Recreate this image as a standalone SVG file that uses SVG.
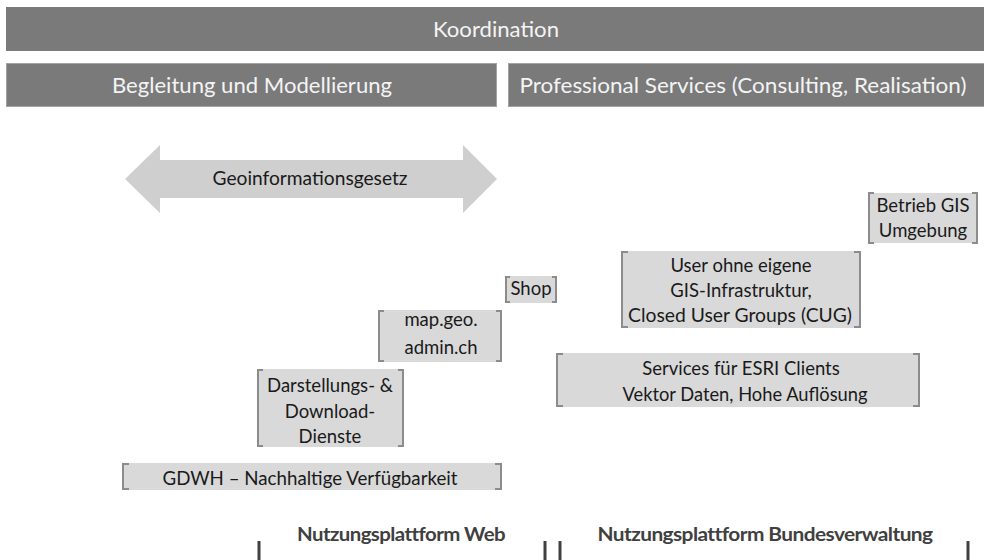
<svg xmlns="http://www.w3.org/2000/svg" width="984" height="560" viewBox="0 0 984 560">
<defs>
<style>
.bar{fill:#7a7a7a;}
.bar2{fill:#7a7a7a;stroke:#a3a3a3;stroke-width:1;}
.hdr{font-family:Lato,"Open Sans","DejaVu Sans",sans-serif;font-size:21.5px;fill:#f4f4f4;text-anchor:middle;}
.box{fill:#d9d9d9;}
.brk{fill:none;stroke:#8c8c8c;stroke-width:2;}
.lbl{font-family:Lato,"Open Sans","DejaVu Sans",sans-serif;font-size:18.5px;fill:#1a1a1a;text-anchor:middle;}
.plat{font-family:Lato,"Open Sans","DejaVu Sans",sans-serif;font-size:18px;font-weight:bold;fill:#404040;text-anchor:middle;letter-spacing:-0.5px;}
.tick{stroke:#404040;stroke-width:3;}
</style>
</defs>
<rect width="984" height="560" fill="#ffffff"/>

<g id="koordination">
<rect class="bar" x="6" y="7" width="978" height="44"/>
<text class="hdr" x="496" y="37" textLength="126" lengthAdjust="spacingAndGlyphs">Koordination</text>
</g>
<g id="begleitung">
<rect class="bar2" x="6.5" y="63.5" width="490" height="43"/>
<text class="hdr" x="252" y="93" textLength="280" lengthAdjust="spacingAndGlyphs">Begleitung und Modellierung</text>
</g>
<g id="professional">
<rect class="bar2" x="508.5" y="63.5" width="476" height="43"/>
<text class="hdr" x="743" y="93" textLength="447" lengthAdjust="spacingAndGlyphs">Professional Services (Consulting, Realisation)</text>
</g>

<g id="geoinformationsgesetz">
<polygon points="125,179 160,145 160,160 463,160 463,145 497,179 463,213 463,198 160,198 160,213" fill="#cfcfcf"/>
<text class="lbl" x="310" y="185" textLength="195" lengthAdjust="spacingAndGlyphs">Geoinformationsgesetz</text>
</g>

<g id="betrieb">
<rect class="box" x="868" y="193" width="110" height="50"/>
<path class="brk" d="M874,193 H869 V243 H874 M972,193 H977 V243 H972"/>
<text class="lbl" x="923" y="212">Betrieb GIS</text>
<text class="lbl" x="923" y="237">Umgebung</text>
</g>

<g id="user">
<rect class="box" x="621" y="251" width="240" height="77"/>
<path class="brk" d="M628,252 H622 V327 H628 M854,252 H860 V327 H854"/>
<text class="lbl" x="741" y="272">User ohne eigene</text>
<text class="lbl" x="741" y="297">GIS-Infrastruktur,</text>
<text class="lbl" x="740" y="322" textLength="224" lengthAdjust="spacingAndGlyphs">Closed User Groups (CUG)</text>
</g>

<g id="shop">
<rect class="box" x="505" y="276" width="52" height="27"/>
<path class="brk" d="M510,277 H506 V302 H510 M552,277 H556 V302 H552"/>
<text class="lbl" x="531" y="295">Shop</text>
</g>

<g id="mapgeo">
<rect class="box" x="378" y="310" width="124" height="52"/>
<path class="brk" d="M384,311 H379 V361 H384 M496,311 H501 V361 H496"/>
<text class="lbl" x="441" y="326">map.geo.</text>
<text class="lbl" x="441" y="354">admin.ch</text>
</g>

<g id="services">
<rect class="box" x="556" y="353" width="364" height="54"/>
<path class="brk" d="M563,354 H557 V406 H563 M913,354 H919 V406 H913"/>
<text class="lbl" x="741" y="375">Services für ESRI Clients</text>
<text class="lbl" x="745" y="401" textLength="245" lengthAdjust="spacingAndGlyphs">Vektor Daten, Hohe Auflösung</text>
</g>

<g id="darstellung">
<rect class="box" x="257" y="369" width="147" height="78"/>
<path class="brk" d="M263,370 H258 V446 H263 M398,370 H403 V446 H398"/>
<text class="lbl" x="330" y="392">Darstellungs- &amp;</text>
<text class="lbl" x="330" y="418">Download-</text>
<text class="lbl" x="330" y="443">Dienste</text>
</g>

<g id="gdwh">
<rect class="box" x="122" y="463" width="380" height="27"/>
<path class="brk" d="M129,464 H123 V489 H129 M495,464 H501 V489 H495"/>
<text class="lbl" x="310" y="485" textLength="295" lengthAdjust="spacingAndGlyphs">GDWH – Nachhaltige Verfügbarkeit</text>
</g>

<g id="plattformen">
<text class="plat" x="401" y="541" textLength="208" lengthAdjust="spacingAndGlyphs">Nutzungsplattform Web</text>
<text class="plat" x="765" y="541" textLength="335" lengthAdjust="spacingAndGlyphs">Nutzungsplattform Bundesverwaltung</text>
</g>
<g id="connectors">
<line class="tick" x1="259" y1="541" x2="259" y2="560"/>
<line class="tick" x1="545" y1="541" x2="545" y2="560"/>
<line class="tick" x1="560" y1="541" x2="560" y2="560"/>
<line class="tick" x1="968" y1="541" x2="968" y2="560"/>
</g>
</svg>
